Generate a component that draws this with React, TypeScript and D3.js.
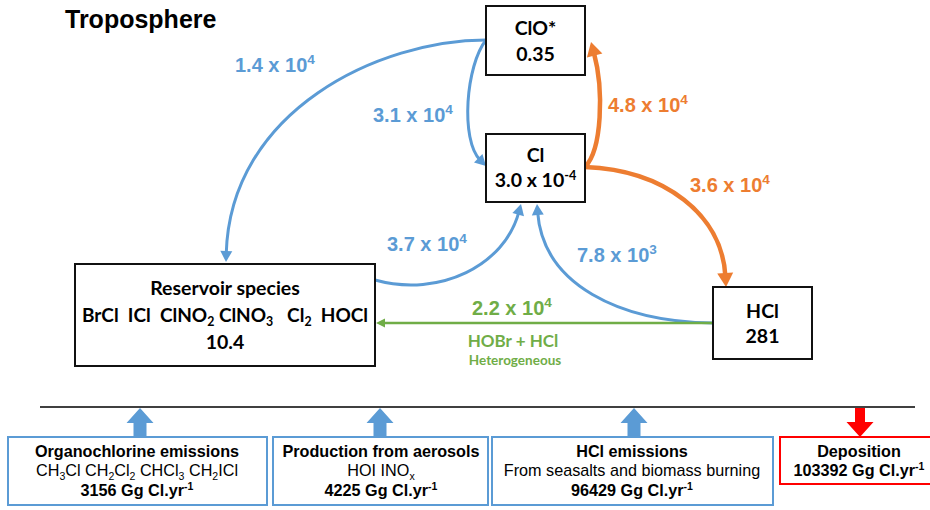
import React from "react";
import * as d3 from "d3";

// diagram content
const title = "Troposphere";
const nodeNames = ["ClO*", "Cl", "Reservoir species", "HCl"];
const nodeValues = ["0.35", "3.0 x 10^{-4}", "10.4", "281"];
const reservoirMembers = "BrCl  ICl  ClNO_{2} ClNO_{3}   Cl_{2}  HOCl";
const fluxValues = ["1.4 x 10^{4}", "3.1 x 10^{4}", "4.8 x 10^{4}", "3.6 x 10^{4}", "3.7 x 10^{4}", "7.8 x 10^{3}", "2.2 x 10^{4}"];
const fluxColors = ["blue", "blue", "orange", "orange", "blue", "blue", "green"];
const reactionNote = ["HOBr + HCl", "Heterogeneous"];
const surfaceTitles = ["Organochlorine emissions", "Production from aerosols", "HCl emissions", "Deposition"];
const surfaceDetails = ["CH_{3}Cl CH_{2}Cl_{2} CHCl_{3} CH_{2}ICl", "HOI INO_{x}", "From seasalts and biomass burning", ""];
const surfaceAmounts = ["3156", "4225", "96429", "103392"];
const surfaceUnit = " Gg Cl.yr^{-1}";
const surfaceDirection = ["up", "up", "up", "down"];

const palette: Record<string, string> = {
  blue: "#5b9bd5",
  orange: "#ed7d31",
  green: "#70ad47",
  red: "#ff0000",
};

type Seg = { t: string; s: number };
function parse(str: string): Seg[] {
  const out: Seg[] = [];
  const re = /([\^_])\{([^}]*)\}/g;
  let last = 0;
  let m: RegExpExecArray | null;
  while ((m = re.exec(str))) {
    if (m.index > last) out.push({ t: str.slice(last, m.index), s: 0 });
    out.push({ t: m[2], s: m[1] === "^" ? 1 : -1 });
    last = re.lastIndex;
  }
  if (last < str.length) out.push({ t: str.slice(last), s: 0 });
  return out;
}

const Rich = ({ x, y, str, size, anchor = "middle", fill = "#000", family, weight = "bold", sub = 0.65 }: any) => {
  let cur = 0;
  return (
    <text x={x} y={y} fontSize={size} textAnchor={anchor} fill={fill} fontFamily={family} fontWeight={weight} style={{ whiteSpace: "pre" }}>
      {parse(str).map((sg, i) => {
        const target = sg.s === 1 ? -0.38 * size : sg.s === -1 ? 0.22 * size : 0;
        const dy = target - cur;
        cur = target;
        return (
          <tspan key={i} dy={dy} fontSize={sg.s ? size * sub : size}>
            {sg.t}
          </tspan>
        );
      })}
    </text>
  );
};

const SANS = "'Liberation Sans', Arial, sans-serif";
const CAL = "Lato, 'Open Sans', sans-serif";

export default function App() {
  // node boxes [x0, y0, x1, y1]
  const boxes = [
    [486, 6, 585, 75],
    [486, 134, 585, 202],
    [75, 264, 375, 366],
    [713, 287, 812, 359],
  ];
  const nodeBaselines = [
    [35, 61],
    [162, 187],
    [295, 349],
    [318, 343],
  ];

  // flux curves: start, ctrl1, ctrl2, tip
  const curves = [
    [[486, 40], [380, 40], [230, 110], [226, 262]],
    [[486, 40], [466, 65], [460, 140], [486, 166]],
    [[585, 167], [602, 150], [604, 90], [591, 42]],
    [[585, 167], [665, 170], [722, 215], [726, 287]],
    [[375, 280], [440, 298], [505, 265], [521, 204]],
    [[713, 323], [620, 322], [543, 285], [537, 204]],
    [[713, 323], [600, 323], [480, 323], [376, 323]],
  ];
  const labelPos = [
    [235, 72],
    [373, 122],
    [608, 112],
    [690, 192],
    [387, 251],
    [577, 262],
    [472, 315],
  ];
  const widths: Record<string, number> = { blue: 3, orange: 4.5, green: 2.5 };
  const headLen: Record<string, number> = { blue: 11, orange: 14, green: 9 };
  const headWid: Record<string, number> = { blue: 12, orange: 16, green: 9 };

  const curvePath = (c: number[][], color: string) => {
    const [p0, c1, c2, tip] = c;
    const dx = tip[0] - c2[0];
    const dy = tip[1] - c2[1];
    const len = Math.hypot(dx, dy);
    const back = headLen[color] - 3;
    const end = [tip[0] - (dx / len) * back, tip[1] - (dy / len) * back];
    const p = d3.path();
    p.moveTo(p0[0], p0[1]);
    p.bezierCurveTo(c1[0], c1[1], c2[0], c2[1], end[0], end[1]);
    return p.toString();
  };

  // bottom boxes
  const sBoxes = [
    [8, 437, 267, 505],
    [273, 437, 488, 505],
    [492, 437, 773, 505],
    [780, 437, 936, 484],
  ];
  const sCenters = [137, 381, 632, 859];
  const arrowX = [140, 380, 634, 860];
  const lineY = 407;

  const blockArrow = (cx: number, dir: string) => {
    const top = 408;
    const bot = 437;
    const hw = 13.5;
    const sw = 6.5;
    const hh = 15;
    const p = d3.path();
    if (dir === "up") {
      p.moveTo(cx, top);
      p.lineTo(cx + hw, top + hh);
      p.lineTo(cx + sw, top + hh);
      p.lineTo(cx + sw, bot);
      p.lineTo(cx - sw, bot);
      p.lineTo(cx - sw, top + hh);
      p.lineTo(cx - hw, top + hh);
    } else {
      p.moveTo(cx - 5, top);
      p.lineTo(cx + 5, top);
      p.lineTo(cx + 5, bot - hh);
      p.lineTo(cx + hw, bot - hh);
      p.lineTo(cx, bot);
      p.lineTo(cx - hw, bot - hh);
      p.lineTo(cx - 5, bot - hh);
    }
    p.closePath();
    return p.toString();
  };

  return (
    <svg width={930} height={510} style={{ position: "absolute", left: 0, top: 0, background: "#fff" }}>
      <defs>
        {Object.keys(headLen).map((k) => (
          <marker
            key={k}
            id={`head-${k}`}
            markerUnits="userSpaceOnUse"
            markerWidth={headLen[k]}
            markerHeight={headWid[k]}
            refX={3}
            refY={headWid[k] / 2}
            orient="auto"
            overflow="visible"
          >
            <path d={`M0,0 L${headLen[k]},${headWid[k] / 2} L0,${headWid[k]} Z`} fill={palette[k]} />
          </marker>
        ))}
      </defs>

      <text x={65} y={28} fontFamily={SANS} fontWeight="bold" fontSize={25}>
        {title}
      </text>

      {curves.map((c, i) => (
        <path
          key={i}
          d={curvePath(c, fluxColors[i])}
          fill="none"
          stroke={palette[fluxColors[i]]}
          strokeWidth={widths[fluxColors[i]]}
          markerEnd={`url(#head-${fluxColors[i]})`}
        />
      ))}

      {boxes.map((b, i) => (
        <g key={i}>
          <rect x={b[0]} y={b[1]} width={b[2] - b[0]} height={b[3] - b[1]} fill="#fff" stroke="#111" strokeWidth={2} />
          <Rich x={(b[0] + b[2]) / 2} y={nodeBaselines[i][0]} str={nodeNames[i]} size={19.5} family={CAL} />
          <Rich x={(b[0] + b[2]) / 2} y={nodeBaselines[i][1]} str={nodeValues[i]} size={19.5} family={CAL} />
        </g>
      ))}
      <Rich x={225} y={322} str={reservoirMembers} size={19} family={CAL} />

      {fluxValues.map((f, i) => (
        <Rich key={i} x={labelPos[i][0]} y={labelPos[i][1]} str={f} size={20} anchor="start" family={SANS} fill={palette[fluxColors[i]]} sub={0.68} />
      ))}
      <Rich x={513} y={347} str={reactionNote[0]} size={17} family={CAL} fill={palette.green} />
      <Rich x={515} y={365} str={reactionNote[1]} size={13.5} family={CAL} fill={palette.green} />

      <line x1={40} x2={915} y1={lineY} y2={lineY} stroke="#000" strokeWidth={1.5} />

      {sBoxes.map((b, i) => {
        const col = surfaceDirection[i] === "down" ? palette.red : palette.blue;
        const hasDetail = surfaceDetails[i] !== "";
        return (
          <g key={i}>
            <rect x={b[0]} y={b[1]} width={b[2] - b[0]} height={b[3] - b[1]} fill="#fff" stroke={col} strokeWidth={2} />
            <path d={blockArrow(arrowX[i], surfaceDirection[i])} fill={col} />
            <Rich x={sCenters[i]} y={457} str={surfaceTitles[i]} size={16.2} family={SANS} />
            {hasDetail && <Rich x={sCenters[i]} y={476} str={surfaceDetails[i]} size={16.2} family={SANS} weight="normal" />}
            <Rich x={sCenters[i]} y={hasDetail ? 496 : 476} str={surfaceAmounts[i] + surfaceUnit} size={16.2} family={SANS} />
          </g>
        );
      })}
    </svg>
  );
}
